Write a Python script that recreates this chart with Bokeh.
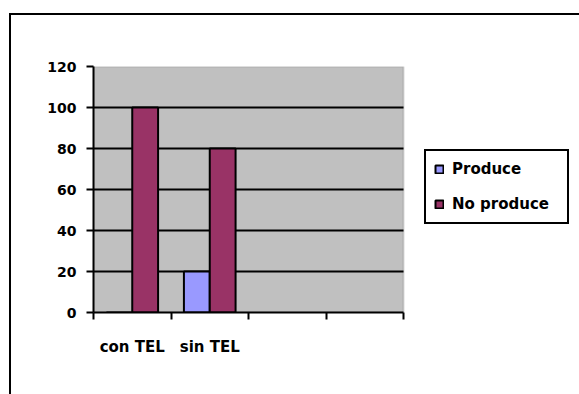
import numpy as np
from bokeh.plotting import figure
from bokeh.models import (Range1d, FixedTicker, ColumnDataSource, Legend, LegendItem,
                          InlineStyleSheet, BoxAnnotation)
from bokeh.embed import file_html
from bokeh.resources import INLINE

# ---- data ----
categories = ["con TEL", "sin TEL", "", ""]
produce = [0, 20, np.nan, np.nan]
no_produce = [100, 80, np.nan, np.nan]
series_names = ["Produce", "No produce"]
series_colors = ["#9999FF", "#993366"]
y_ticks = [0, 20, 40, 60, 80, 100, 120]

FONT = "DejaVu Sans"

n = len(categories)
centers = [i + 0.5 for i in range(n)]
bw = 1.0 / 3.0
y_max = max(y_ticks)

# layout: frame spans the plot area plus the legend zone on the right;
# the plot area itself covers 310 px of the 482 px frame
W, H = 579, 394
BL, BR, BT, BB = 93, 4, 66, 82
frame_w = W - BL - BR
plot_w = 310
x_end = n * frame_w / plot_w

p = figure(width=W, height=H, output_backend="svg", toolbar_location=None,
           x_range=Range1d(0, x_end), y_range=Range1d(0, y_max),
           min_border_left=BL, min_border_right=BR, min_border_top=BT, min_border_bottom=BB)

p.background_fill_color = "white"
p.border_fill_color = "white"
p.outline_line_color = None
p.xgrid.visible = False
p.ygrid.visible = False

# grey plot area
p.add_layout(BoxAnnotation(left=0, right=n, bottom=0, top=y_max,
                           fill_color="#C0C0C0", fill_alpha=1,
                           line_color="#808080", line_width=2, level="image"))

# horizontal gridlines limited to the plot area
grid_y = [t for t in y_ticks if 0 < t < y_max]
p.segment(x0=[0] * len(grid_y), x1=[n] * len(grid_y), y0=grid_y, y1=grid_y,
          line_color="black", line_width=2)

src = ColumnDataSource(dict(
    xp=[c - bw / 2 for c in centers],
    xn=[c + bw / 2 for c in centers],
    produce=produce, no_produce=no_produce))

r1 = p.vbar(x="xp", top="produce", bottom=0, width=bw, source=src,
            fill_color=series_colors[0], line_color="black", line_width=2)
r2 = p.vbar(x="xn", top="no_produce", bottom=0, width=bw, source=src,
            fill_color=series_colors[1], line_color="black", line_width=2)

# y axis
ya = p.yaxis[0]
ya.ticker = FixedTicker(ticks=y_ticks, minor_ticks=[])
ya.axis_line_color = "black"
ya.axis_line_width = 2
ya.major_tick_out = 7
ya.major_tick_in = 0
ya.major_tick_line_width = 2
ya.minor_tick_line_color = None
ya.major_label_standoff = 10
ya.major_label_text_font = FONT
ya.major_label_text_font_style = "bold"
ya.major_label_text_font_size = "14px"
ya.major_label_text_color = "black"

# x axis: labels at category centers, ticks at category boundaries
xa = p.xaxis[0]
xa.bounds = (0, n)
xa.ticker = FixedTicker(ticks=centers, minor_ticks=list(range(n + 1)))
xa.major_label_overrides = {c: lab for c, lab in zip(centers, categories)}
xa.axis_line_color = "black"
xa.axis_line_width = 2
xa.major_tick_line_color = None
xa.major_tick_out = 0
xa.major_tick_in = 0
xa.minor_tick_out = 7
xa.minor_tick_in = 0
xa.minor_tick_line_width = 2
xa.minor_tick_line_color = "black"
xa.major_label_standoff = 18
xa.major_label_text_font = FONT
xa.major_label_text_font_style = "bold"
xa.major_label_text_font_size = "15px"
xa.major_label_text_color = "black"

legend = Legend(items=[LegendItem(label=series_names[0], renderers=[r1]),
                       LegendItem(label=series_names[1], renderers=[r2])],
                location=(331, 88), margin=0, padding=8, spacing=15,
                glyph_width=10, glyph_height=10, label_standoff=8,
                label_height=20, label_width=107,
                label_text_font=FONT, label_text_font_style="bold",
                label_text_font_size="15px", label_text_color="black",
                border_line_color="black", border_line_width=2, border_line_alpha=1,
                background_fill_color="white", background_fill_alpha=1)
p.add_layout(legend)

# outer chart-area border (left and top edges visible in the reference)
p.stylesheets = [InlineStyleSheet(css="""
:host::after {
  content: "";
  position: absolute;
  left: 9px; top: 13px; right: 0px; bottom: 0px;
  border-left: 2px solid black;
  border-top: 2px solid black;
  pointer-events: none;
  z-index: 10;
}
""")]

open("out.html", "w").write(file_html(p, INLINE))
